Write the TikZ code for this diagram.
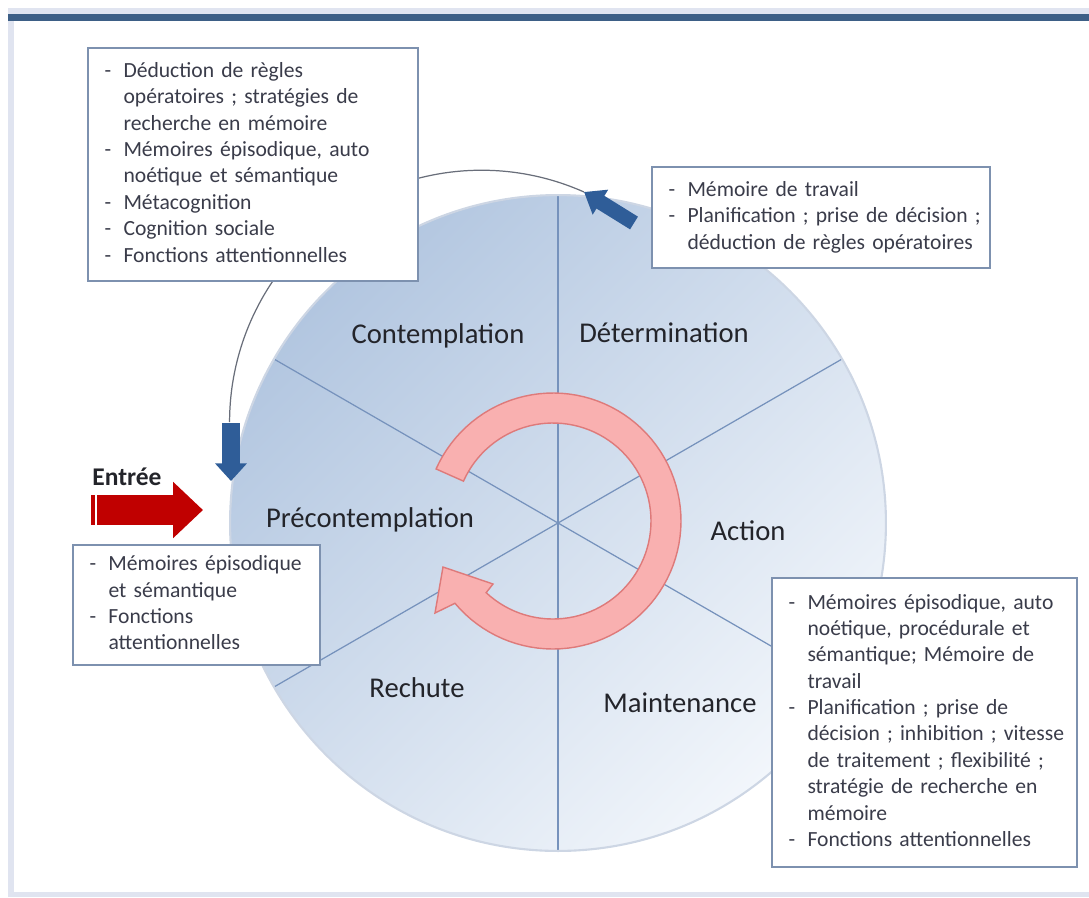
\documentclass[tikz,border=0pt]{standalone}
\usepackage{fontspec}
\setmainfont{Carlito}
\usetikzlibrary{arrows.meta,calc}

\definecolor{bardark}{RGB}{61,95,134}
\definecolor{framelight}{RGB}{224,228,240}
\definecolor{circtop}{RGB}{178,198,224}
\definecolor{circbot}{RGB}{242,246,251}
\definecolor{circedge}{RGB}{205,214,228}
\definecolor{divline}{RGB}{118,146,188}
\definecolor{boxline}{RGB}{125,145,175}
\definecolor{boxtext}{RGB}{58,60,74}
\definecolor{labeltext}{RGB}{35,36,42}
\definecolor{arrowblue}{RGB}{47,93,152}
\definecolor{entreered}{RGB}{192,0,0}
\definecolor{pinkfill}{RGB}{249,176,176}
\definecolor{pinkline}{RGB}{222,122,122}
\definecolor{arcgray}{RGB}{105,110,122}

% dashed list of a box: one tabular, dash column then text column
\newenvironment{itemlist}{\begin{tabular}{@{\hspace{0.08cm}}p{0.38cm}@{}l@{}}}{\end{tabular}}

\begin{document}
\begin{tikzpicture}[x=0.02cm, y=-0.02cm,
    box/.style={draw=boxline, line width=0.9pt, fill=white, text=boxtext, align=left,
        inner xsep=0.25cm, font=\fontsize{12.3}{15}\selectfont},
    stage/.style={text=labeltext, font=\fontsize{16.3}{19}\selectfont},
    bluearrow/.style={draw=arrowblue, line width=8.5pt, -{Triangle[width=16pt,length=11pt]}},
    redarrow/.style={draw=entreered, line width=17pt, -{Triangle[width=31pt,length=17pt]}}]
    \useasboundingbox (0,0) rectangle (1089,897);

    % Frame and top bar
    \fill[framelight] (8,8) rectangle (1089,14);
    \fill[bardark] (8,14) rectangle (1089,21);
    \fill[framelight] (8,21) rectangle (14,897);
    \fill[framelight] (8,892) rectangle (1089,897);

    % Wheel with six stages
    \coordinate (cc) at (558,523);
    \shade[top color=circtop, bottom color=circbot, shading angle=45] (cc) circle[radius=6.56cm];
    \draw[divline, line width=0.7pt] ($(cc)+(-90:328)$) -- ($(cc)+(90:328)$);
    \draw[divline, line width=0.7pt] ($(cc)+(-30:328)$) -- ($(cc)+(150:328)$);
    \draw[divline, line width=0.7pt] ($(cc)+(30:328)$) -- ($(cc)+(210:328)$);
    \draw[circedge, line width=1.2pt] (cc) circle[radius=6.56cm];

    % Circular arrow in the middle
    \filldraw[fill=pinkfill, draw=pinkline, line width=0.8pt]
        plot[domain=204:500, samples=90] ({553+128*cos(\x)},{521+128*sin(\x)})
        -- (435,613) -- (443,567) -- (493,584)
        -- plot[domain=493:204, samples=90] ({553+98*cos(\x)},{521+98*sin(\x)}) -- cycle;

    % Stage labels
    \node[stage] (contemp) at (438,336) {Contemplation};
    \node[stage] (determ) at (664,333) {Détermination};
    \node[stage] (action) at (748,531) {Action};
    \node[stage] (mainten) at (680,703) {Maintenance};
    \node[stage] (rechute) at (417,688) {Rechute};
    \node[stage] (precont) at (370,520) {Précontemplation};

    % Return path with blue arrows
    \coordinate (rtail) at (634,223);
    \coordinate (rhead) at (584,192);
    \coordinate (ltail) at (231,423);
    \coordinate (lhead) at (231,481);
    \draw[arcgray, line width=0.7pt] (rhead) arc[start angle=66, end angle=180, radius=5.04cm];
    \draw[bluearrow] (rtail) -- (rhead);
    \draw[bluearrow, line width=10pt, -{Triangle[width=17.5pt,length=10pt]}] (ltail) -- (lhead);

    % Memory boxes
    \node[box, text width=6.1cm, minimum height=4.66cm] (memA) at (253,164.5) {%
        \begin{itemlist}
        - & Déduction de règles\\ & opératoires ; stratégies de\\ & recherche en mémoire\\
        - & Mémoires épisodique, auto\\ & noétique et sémantique\\
        - & Métacognition\\
        - & Cognition sociale\\
        - & Fonctions attentionnelles
        \end{itemlist}};
    \node[box, text width=6.26cm, minimum height=2.02cm] (memB) at (821,217.5) {%
        \begin{itemlist}
        - & Mémoire de travail\\
        - & Planification ; prise de décision ;\\ & déduction de règles opératoires
        \end{itemlist}};
    \node[box, text width=4.44cm, minimum height=2.4cm] (memC) at (196.5,605) {%
        \begin{itemlist}
        - & Mémoires épisodique\\ & et sémantique\\
        - & Fonctions\\ & attentionnelles
        \end{itemlist}};
    \node[box, text width=5.6cm, minimum height=5.78cm] (memD) at (924.5,722.5) {%
        \begin{itemlist}
        - & Mémoires épisodique, auto\\ & noétique, procédurale et\\ & sémantique; Mémoire de\\ & travail\\
        - & Planification ; prise de\\ & décision ; inhibition ; vitesse\\ & de traitement ; flexibilité ;\\ & stratégie de recherche en\\ & mémoire\\
        - & Fonctions attentionnelles
        \end{itemlist}};

    % Entry arrow
    \coordinate (etail) at (97,510);
    \coordinate (ehead) at (203,510);
    \fill[entreered] (91,495) rectangle (95,525);
    \draw[redarrow] (etail) -- (ehead);
    \node[text=labeltext, font=\fontsize{14.5}{17}\selectfont\bfseries] (entree) at (127,477) {Entrée};
\end{tikzpicture}
\end{document}
